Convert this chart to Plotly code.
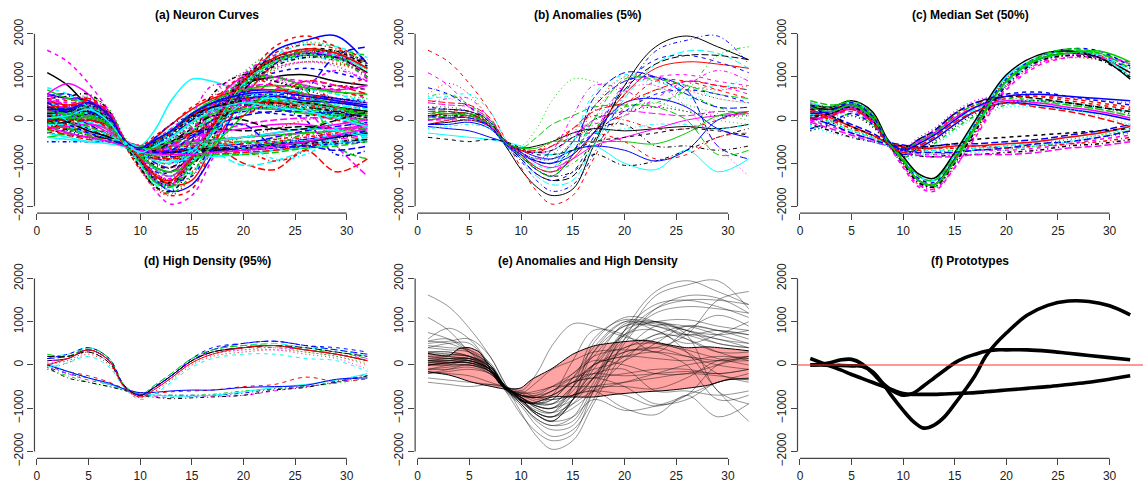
import plotly.graph_objects as go

# ---------------- data ----------------
K = [1, 3, 5, 7, 8.5, 10, 11.5, 13, 15, 17, 20, 23, 26, 29, 32]

MEDIAN_A = [
    [300, 250, 350, 100, -480, -950, -1400, -1500, -900, -150, 900, 1400, 1550, 1450, 1100],
    [100, 150, 300, 50, -500, -1000, -1450, -1550, -1000, -250, 850, 1350, 1500, 1450, 1200],
    [-100, 50, 250, 0, -550, -1050, -1500, -1600, -1050, -300, 800, 1300, 1450, 1400, 1250],
    [400, 300, 400, 150, -450, -850, -1300, -1400, -800, -50, 1000, 1450, 1600, 1500, 1000],
    [200, 200, 350, 100, -500, -950, -1400, -1550, -950, -200, 900, 1400, 1600, 1550, 1300],
    [0, 100, 250, -50, -550, -1050, -1500, -1600, -1100, -350, 750, 1300, 1500, 1500, 1300],
    [-200, -50, 150, -100, -550, -950, -1350, -1450, -900, -100, 950, 1450, 1650, 1600, 1250],
    [350, 300, 450, 200, -450, -850, -1250, -1350, -750, 0, 1050, 1500, 1600, 1450, 950],
    [150, 200, 300, 50, -500, -1000, -1400, -1500, -950, -200, 850, 1350, 1550, 1500, 1150],
    [250, 250, 400, 150, -480, -950, -1400, -1500, -900, -100, 950, 1400, 1550, 1500, 1050],
    [-50, 100, 200, -50, -550, -1100, -1550, -1650, -1100, -400, 700, 1250, 1450, 1450, 1350],
    [450, 350, 400, 100, -480, -900, -1300, -1400, -850, -150, 900, 1450, 1650, 1550, 1200],
    [50, 150, 300, 0, -520, -1000, -1450, -1550, -1000, -250, 800, 1350, 1500, 1400, 1000],
    [300, 200, 350, 50, -500, -950, -1400, -1500, -950, -150, 900, 1400, 1550, 1600, 1350],
]
MEDIAN_M = [
    [200, 200, 300, 0, -500, -700, -500, -300, 100, 350, 550, 550, 450, 350, 250],
    [0, 100, 250, -50, -520, -750, -600, -400, 0, 250, 450, 450, 400, 300, 200],
    [-200, -50, 150, -100, -550, -850, -750, -550, -200, 100, 350, 400, 350, 250, 100],
    [400, 300, 400, 100, -480, -650, -400, -200, 200, 450, 600, 600, 500, 450, 400],
    [100, 150, 300, 0, -520, -800, -650, -450, -100, 200, 400, 350, 250, 150, 0],
    [300, 250, 350, 50, -480, -680, -450, -250, 150, 400, 550, 500, 400, 300, 200],
    [-100, 0, 200, -100, -550, -900, -800, -600, -250, 50, 300, 300, 250, 100, -100],
    [200, 150, 250, -50, -500, -750, -550, -350, 50, 300, 500, 550, 500, 400, 300],
    [0, 100, 300, 0, -520, -700, -500, -300, 50, 300, 450, 400, 300, 200, 50],
    [350, 300, 450, 150, -480, -650, -500, -300, 100, 350, 500, 450, 350, 250, 100],
    [-250, -100, 100, -150, -550, -850, -700, -500, -150, 150, 400, 450, 400, 300, 150],
    [150, 200, 350, 50, -500, -700, -550, -350, 0, 300, 550, 600, 550, 500, 450],
    [50, 100, 250, -50, -520, -750, -600, -400, -50, 200, 400, 300, 200, 50, -150],
    [250, 250, 400, 100, -480, -650, -450, -250, 150, 400, 600, 650, 550, 450, 350],
]
MEDIAN_L = [
    [200, 0, -200, -400, -530, -620, -680, -700, -650, -650, -600, -550, -450, -350, -250],
    [0, -150, -300, -450, -560, -700, -780, -800, -750, -700, -700, -650, -550, -450, -350],
    [350, 100, -100, -300, -500, -580, -620, -600, -550, -550, -500, -450, -350, -250, -100],
    [-100, -250, -400, -500, -600, -750, -830, -850, -800, -800, -750, -700, -600, -550, -450],
    [150, -50, -250, -400, -540, -650, -700, -700, -700, -650, -600, -500, -400, -300, -200],
    [250, 50, -150, -350, -520, -620, -650, -650, -600, -600, -550, -500, -400, -300, -150],
    [-50, -200, -350, -500, -600, -750, -820, -850, -850, -800, -800, -750, -650, -600, -500],
    [100, -50, -250, -400, -560, -680, -720, -750, -700, -700, -650, -600, -500, -400, -300],
    [300, 100, -150, -350, -520, -600, -620, -600, -550, -450, -400, -350, -300, -250, -200],
    [50, -100, -300, -450, -570, -700, -750, -750, -750, -700, -650, -550, -500, -400, -250],
    [200, 0, -200, -350, -540, -650, -700, -650, -650, -600, -650, -600, -550, -500, -400],
    [-150, -300, -400, -500, -600, -720, -780, -800, -800, -750, -700, -600, -500, -350, -200],
]
HIGH_1 = [
    [100, 150, 350, 100, -500, -700, -500, -250, 100, 300, 400, 450, 350, 250, 100],
    [0, 100, 300, 50, -520, -730, -550, -300, 50, 250, 350, 400, 300, 200, 50],
    [200, 250, 400, 150, -480, -680, -450, -200, 150, 350, 450, 500, 400, 350, 200],
    [-100, 50, 250, 0, -540, -760, -600, -350, 0, 200, 300, 350, 300, 200, 0],
    [150, 200, 350, 100, -500, -700, -500, -250, 100, 350, 500, 550, 450, 350, 250],
    [50, 100, 300, 50, -520, -720, -550, -300, 50, 250, 350, 350, 250, 150, -100],
    [250, 200, 400, 150, -480, -680, -450, -200, 150, 350, 450, 450, 350, 300, 150],
    [-50, 50, 200, -50, -540, -800, -650, -400, -50, 150, 250, 250, 150, 100, -150],
    [100, 150, 350, 100, -500, -720, -520, -300, 100, 300, 400, 400, 350, 250, 150],
    [200, 200, 300, 50, -500, -700, -500, -250, 100, 300, 400, 450, 400, 300, 200],
    [0, 150, 350, 100, -520, -740, -550, -300, 50, 250, 400, 450, 350, 250, 100],
    [150, 250, 400, 150, -480, -700, -480, -250, 150, 400, 500, 550, 450, 400, 300],
]
HIGH_2 = [
    [0, -150, -250, -400, -550, -640, -650, -620, -600, -580, -500, -450, -280, -380, -320],
    [-50, -200, -300, -450, -570, -660, -700, -700, -700, -700, -650, -550, -500, -400, -250],
    [0, -200, -350, -450, -570, -680, -730, -750, -730, -720, -700, -600, -500, -400, -200],
    [-100, -250, -400, -500, -590, -680, -700, -700, -700, -680, -600, -550, -500, -420, -300],
    [50, -150, -300, -450, -560, -650, -700, -720, -720, -700, -620, -520, -450, -350, -200],
    [-50, -300, -400, -500, -590, -690, -750, -780, -760, -740, -700, -580, -520, -380, -250],
    [0, -150, -300, -420, -560, -640, -630, -600, -580, -580, -520, -500, -470, -330, -300],
]
ANOMALIES = [
    [100, 150, 150, -150, -600, -1150, -1550, -1750, -1600, -600, 800, 1700, 1950, 1700, 1400],
    [1620, 1350, 850, 200, -450, -1100, -1650, -1950, -1750, -900, 300, 900, 900, 700, 500],
    [0, 50, 100, -100, -550, -600, -200, 450, 950, 900, 650, 500, 350, 150, 0],
    [50, 100, 100, -100, -600, -950, -1400, -1650, -1500, -800, 600, 1600, 1850, 1950, 1300],
    [0, 50, 50, -150, -580, -900, -1300, -1500, -1400, -600, 500, 1300, 1600, 1550, 1200],
    [1100, 800, 300, -100, -500, -800, -1100, -1200, -800, -300, 800, 1000, 1050, 900, 800],
    [600, 850, 600, 0, -500, -800, -1150, -1300, -800, 300, 1000, 1000, 800, 700, 800],
    [550, 600, 350, 0, -500, -750, -1000, -1100, -700, -200, 300, 400, 700, 1500, 1700],
    [250, 250, 200, 0, -500, -750, -950, -1000, -500, 300, 900, 1000, 700, -600, -900],
    [-300, -350, -400, -450, -520, -600, -750, -800, -700, -600, -1000, -1150, -700, -1200, -900],
    [300, 300, 200, -100, -520, -800, -1100, -1200, -800, -100, 700, 800, 300, -600, -1300],
    [100, 100, 50, -150, -550, -800, -1150, -1300, -1200, -800, -1050, -950, -700, -400, -200],
    [150, 150, 150, 0, -550, -650, -400, -100, 100, 300, 350, 300, 0, -800, -700],
    [-150, -200, -250, -400, -520, -700, -850, -900, -700, -600, -700, -950, -700, 0, 200],
    [500, 550, 600, 200, -450, -800, -1050, -1100, -500, 600, 1050, 900, 700, 800, 700],
    [400, 500, 500, 0, -500, -800, -900, -700, 100, 800, 700, 300, 800, 1150, 900],
    [200, 200, 100, -100, -550, -900, -1250, -1400, -1300, -500, 700, 1300, 1500, 1500, 1400],
    [-100, 0, 100, -100, -520, -800, -1100, -1200, -900, -300, 600, 1200, 1350, 1300, 1200],
    [0, 50, 100, -150, -560, -900, -1250, -1400, -1200, -400, 800, 1400, 1500, 1350, 1100],
    [550, 500, 300, 0, -500, -750, -950, -1000, -600, 0, 700, 1000, 800, 500, 400],
    [400, 350, 300, 0, -500, -700, -750, -700, -400, 0, 200, 150, 100, 200, 150],
    [-100, -50, 0, -150, -520, -650, -600, -500, -300, -200, -250, -200, -150, -200, -100],
    [100, 150, 150, -100, -560, -720, -750, -600, -400, -300, -500, -900, -800, -400, -300],
    [300, 300, 200, -50, -500, -750, -900, -900, -500, 0, 300, 400, 200, 0, -100],
    [-200, -150, -100, -200, -520, -700, -750, -700, -400, -300, -200, -100, -100, -200, -100],
    [0, 50, 50, -100, -520, -750, -1000, -1100, -900, -600, -400, -200, 0, 100, 150],
    [-400, -450, -500, -450, -500, -650, -800, -800, -700, -500, -400, -300, -200, -250, -350],
    [0, 0, 0, -150, -560, -800, -880, -800, -300, 200, 900, 900, 700, 500, 400],
    [50, 50, 50, -100, -560, -850, -1100, -1200, -1000, -600, 100, 700, 600, 300, 100],
    [100, 50, 50, -150, -560, -850, -1150, -1300, -800, 500, 1100, 1000, 600, 300, 300],
    [0, 0, 0, -150, -520, -700, -750, -600, -300, -100, 100, 500, 900, 800, 600],
    [100, 100, 150, -100, -520, -750, -900, -900, -500, 0, 200, 300, 200, 100, 100],
    [150, 200, 200, -50, -520, -700, -700, -500, -200, 100, 0, -200, -200, 0, 200],
    [50, 100, 150, -50, -520, -850, -1150, -1300, -800, 0, 950, 950, 800, 600, 500],
    [-100, -100, -50, -200, -560, -800, -950, -1000, -800, -300, 400, 500, 300, -200, -400],
    [-200, -100, 0, -200, -560, -800, -900, -800, -300, 400, 1000, 800, 500, 700, 1000],
    [300, 250, 200, -50, -500, -700, -750, -700, -400, -200, -100, -600, -600, -700, -600],
    [450, 400, 350, 50, -480, -700, -700, -600, -200, 200, 400, 700, 900, 800, 700],
    [200, 150, 100, -100, -520, -650, -650, -500, -500, -500, -500, -550, -300, 100, 200],
    [750, 600, 300, -50, -500, -750, -950, -1000, -700, -300, 200, 600, 700, 600, 400],
]
# remaining curves of the full data set (shown only in panel a)
OTHERS = [
    [600, 500, 550, 250, -400, -800, -1200, -1300, -700, 100, 1100, 1600, 1800, 1700, 1300],
    [-300, -100, 100, -150, -600, -1150, -1600, -1750, -1300, -500, 600, 1150, 1350, 1300, 1100],
    [0, 200, 400, 100, -500, -1000, -1450, -1550, -1050, -300, 700, 1200, 1350, 1250, 900],
    [500, 400, 450, 150, -480, -950, -1350, -1450, -850, -100, 1000, 1500, 1750, 1700, 1450],
    [200, 200, 300, 0, -520, -900, -1200, -1200, -700, 0, 800, 1100, 1200, 1100, 900],
    [500, 450, 500, 150, -450, -600, -350, -100, 300, 550, 750, 800, 750, 650, 550],
    [-300, -200, 0, -200, -580, -800, -650, -400, -50, 200, 450, 550, 500, 400, 300],
    [300, 300, 350, 50, -500, -750, -650, -450, -150, 100, 300, 250, 150, 0, -200],
    [600, 500, 450, 100, -480, -700, -550, -300, 100, 400, 650, 700, 600, 500, 400],
    [-400, -300, -100, -250, -600, -850, -800, -600, -250, 0, 250, 300, 250, 100, 0],
    [100, 200, 400, 100, -500, -650, -400, -100, 250, 500, 700, 700, 600, 450, 300],
    [500, 200, -50, -300, -500, -600, -650, -600, -550, -500, -400, -300, -200, -100, 0],
    [-300, -400, -500, -550, -620, -800, -900, -950, -900, -850, -800, -700, -650, -550, -450],
    [400, 150, -100, -350, -520, -650, -700, -700, -650, -600, -550, -400, -250, -150, -50],
    [-200, -350, -450, -500, -600, -750, -850, -900, -850, -800, -750, -700, -600, -500, -400],
    [0, -200, -350, -450, -580, -700, -750, -750, -700, -650, -650, -600, -550, -500, -450],
    [200, 100, 100, -100, -520, -700, -700, -650, -500, -300, -100, 0, 50, 50, 0],
    [0, 50, 150, -100, -540, -750, -700, -550, -350, -150, 100, 200, 200, 150, 100],
    [-100, 0, 200, -50, -560, -1100, -1550, -1700, -1250, -450, 700, 1350, 1600, 1600, 1500],
    [300, 350, 500, 200, -450, -900, -1350, -1450, -900, -150, 950, 1550, 1750, 1650, 1300],
    [-500, -400, -200, -300, -600, -800, -700, -450, -100, 200, 400, 450, 350, 250, 100],
    [700, 500, 400, 100, -480, -700, -500, -250, 150, 450, 700, 800, 750, 650, 600],
    [600, 300, 50, -250, -500, -600, -600, -550, -500, -450, -400, -350, -300, -250, -150],
    [-500, -500, -500, -500, -560, -700, -800, -850, -800, -750, -700, -650, -600, -550, -500],
]

BAND_X = [1, 3, 4, 5, 6, 7, 8, 9, 10, 11, 13, 15, 17, 19, 22, 24, 26, 28, 30, 32]
BAND_TOP = [270, 215, 380, 400, 290, -80, -455, -550, -530, -340, -80, 250, 440, 515, 570, 480, 400, 420, 380, 330]
BAND_BOT = [-160, -230, -300, -380, -440, -490, -540, -590, -830, -890, -740, -740, -740, -680, -620, -590, -540, -470, -340, -320]

PX = [1, 2, 3, 4, 5, 6, 7, 8, 9, 10, 11, 12, 13, 14, 15, 16, 17, 18, 19, 20, 22, 24, 26, 28, 30, 32]
PROTO_BIG = [0, 0, -10, -10, -20, -30, -150, -420, -750, -1050, -1310, -1460, -1390, -1200, -900, -580, -230, 200, 500, 740, 1150, 1380, 1480, 1470, 1370, 1160]
PROTO_MID = [0, 20, 60, 120, 130, 30, -180, -420, -600, -700, -650, -480, -300, -120, 50, 170, 250, 320, 350, 350, 350, 320, 270, 220, 170, 120]
PROTO_LOW = [150, 60, -30, -120, -220, -310, -400, -490, -580, -660, -680, -680, -680, -670, -660, -650, -640, -620, -600, -580, -540, -500, -450, -400, -330, -250]

TITLES = ["(a) Neuron Curves", "(b) Anomalies (5%)", "(c) Median Set (50%)",
          "(d) High Density (95%)", "(e) Anomalies and High Density", "(f) Prototypes"]
X_TICKS = [0, 5, 10, 15, 20, 25, 30]
Y_TICKS = [-2000, -1000, 0, 1000, 2000]

# ---------------- styling ----------------
PALETTE = ["black", "red", "#00CD00", "blue", "cyan", "magenta"]
DASHES = ["solid", "4px,4px", "1px,3px", "1px,3px,4px,3px", "7px,3px"]
W, H = 1143, 492
XD = [[33.5 / W, 379.5 / W], [414.5 / W, 761.2 / W], [797.2 / W, 1.0]]
YD = [[1 - 212.1 / H, 1 - 19.6 / H], [1 - 465.5 / H, 1 - 272.5 / H]]
TITLE_Y = [1 - 7.5 / H, 1 - 261.5 / H]
FONT = "Liberation Sans, Arial, Helvetica, sans-serif"


def sfx(n):
    return "" if n == 1 else str(n)


def interleave(*groups):
    out = []
    n = max(len(g) for g in groups)
    for i in range(n):
        for g in groups:
            if i < len(g):
                out.append(g[i])
    return out


median_set = interleave(MEDIAN_A, MEDIAN_M, MEDIAN_L)
high_set = interleave(HIGH_1, HIGH_2)
all_set = interleave(median_set, ANOMALIES, OTHERS, high_set)

fig = go.Figure()


def add_matplot(curves, panel, width=1.0):
    for i, ys in enumerate(curves):
        fig.add_trace(go.Scatter(
            x=K, y=ys, mode="lines", xaxis="x" + sfx(panel), yaxis="y" + sfx(panel),
            line=dict(color=PALETTE[(i + i // 6) % 6], dash=DASHES[(i + i // 5) % 5], width=width,
                      shape="spline", smoothing=1),
            hoverinfo="skip", showlegend=False))


add_matplot(all_set, 1, 1.5)
add_matplot(ANOMALIES, 2)
add_matplot(median_set, 3, 1.5)
add_matplot(high_set, 4)

# (e) high-density band (filled between lower and upper envelope) + anomalies in gray
fig.add_trace(go.Scatter(
    x=BAND_X, y=BAND_BOT, mode="lines", line=dict(color="black", width=1, shape="spline", smoothing=0.7),
    xaxis="x5", yaxis="y5", hoverinfo="skip", showlegend=False))
fig.add_trace(go.Scatter(
    x=BAND_X, y=BAND_TOP, mode="lines", fill="tonexty", fillcolor="#FFA3A3",
    line=dict(color="black", width=1, shape="spline", smoothing=0.7),
    xaxis="x5", yaxis="y5", hoverinfo="skip", showlegend=False))
for ys in ANOMALIES:
    fig.add_trace(go.Scatter(
        x=K, y=ys, mode="lines", xaxis="x5", yaxis="y5",
        line=dict(color="rgba(0,0,0,0.42)", width=1, shape="spline", smoothing=1),
        hoverinfo="skip", showlegend=False))

# (f) prototypes
for ys in [PROTO_BIG, PROTO_MID, PROTO_LOW]:
    fig.add_trace(go.Scatter(
        x=PX, y=ys, mode="lines", xaxis="x6", yaxis="y6",
        line=dict(color="black", width=3.6, shape="spline", smoothing=1),
        hoverinfo="skip", showlegend=False))

layout = dict(width=W, height=H, margin=dict(l=0, r=0, t=0, b=0),
              paper_bgcolor="white", plot_bgcolor="white", showlegend=False)
shapes = []
annotations = []
for p in range(6):
    n = p + 1
    s = sfx(n)
    r, c = divmod(p, 3)
    layout["xaxis" + s] = dict(
        domain=XD[c], range=[-0.24, 33.24], anchor="y" + s, tickmode="array", tickvals=X_TICKS,
        ticks="outside", ticklen=6, tickwidth=1, tickcolor="#444", showgrid=False, zeroline=False,
        showline=False, tickfont=dict(family=FONT, size=12, color="#222"), fixedrange=True)
    layout["yaxis" + s] = dict(
        domain=YD[r], range=[-2160, 2160], anchor="x" + s, tickmode="array", tickvals=Y_TICKS,
        ticks="outside", ticklen=6, tickwidth=1, tickcolor="#444", showgrid=False, zeroline=False,
        showline=False, tickangle=-90, tickfont=dict(family=FONT, size=12, color="#222"), fixedrange=True)
    shapes.append(dict(type="line", xref="x" + s, yref="y" + s + " domain", x0=X_TICKS[0], x1=X_TICKS[-1],
                       y0=0, y1=0, line=dict(color="#444", width=1.2)))
    shapes.append(dict(type="line", xref="x" + s + " domain", yref="y" + s, x0=0, x1=0,
                       y0=Y_TICKS[0], y1=Y_TICKS[-1], line=dict(color="#444", width=1.2)))
    annotations.append(dict(text=f"<b>{TITLES[p]}</b>", xref="paper", yref="paper",
                            x=(XD[c][0] + XD[c][1]) / 2, y=TITLE_Y[r], xanchor="center", yanchor="middle",
                            showarrow=False, font=dict(family=FONT, size=12, color="black")))
shapes.append(dict(type="line", xref="x6 domain", yref="y6", x0=0, x1=1, y0=0, y1=0,
                   line=dict(color="#FF3030", width=1.2), layer="above"))
layout["shapes"] = shapes
layout["annotations"] = annotations
fig.update_layout(**layout)

fig.write_html("out.html")
